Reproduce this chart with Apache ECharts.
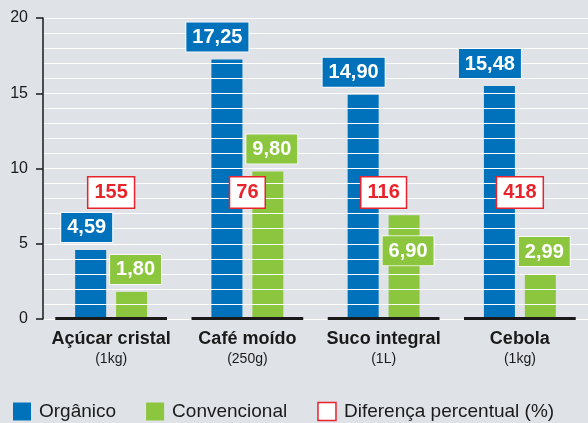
<!DOCTYPE html>
<html>
<head>
<meta charset="utf-8">
<script src="https://cdn.jsdelivr.net/npm/echarts@6/dist/echarts.min.js"></script>
<style>
  html, body { margin: 0; padding: 0; background: #dfe3e7; }
  #chart { width: 588px; height: 423px; }
</style>
</head>
<body>
<div id="chart"></div>
<script>
// Preço por produto: orgânico x convencional (R$) e diferença percentual
const categories = ['Açúcar cristal', 'Café moído', 'Suco integral', 'Cebola'];
const units = ['(1kg)', '(250g)', '(1L)', '(1kg)'];
const organico = [4.59, 17.25, 14.90, 15.48];
const convencional = [1.80, 9.80, 6.90, 2.99];
const diferenca = [155, 76, 116, 418];
const yMin = 0, yMax = 20, yStep = 5;

const BLUE = '#0072bc';
const GREEN = '#8cc63f';
const RED = '#e8232b';
const INK = '#1a1a1a';
const SANS = "'Liberation Sans', Arial, sans-serif";

const BAR_W = 31;
const BAR_GAP = '32%';
const DIFF_LABEL_Y = 8.4;       // height at which the percentage boxes sit
const LOWERED = 'Suco integral'; // green label pushed down to clear the red box

const fmt = v => v.toFixed(2).replace('.', ',');

const valueLabel = (bg, align, dx) => ({
  show: true,
  position: 'top',
  distance: 8,
  align: align,
  offset: [dx, 0],
  formatter: p => fmt(p.value),
  color: '#fff',
  fontFamily: SANS,
  fontWeight: 'bold',
  fontSize: 20,
  lineHeight: 22,
  backgroundColor: bg,
  borderColor: 'rgba(255,255,255,0.75)',
  borderWidth: 1,
  padding: [4, 6, 3, 6]
});

const chart = echarts.init(document.getElementById('chart'), null, { renderer: 'canvas' });

chart.setOption({
  backgroundColor: '#dfe3e7',
  animation: false,
  grid: { left: 43, top: 18, width: 548, bottom: 104, containLabel: false },
  legend: {
    left: 13,
    top: 401.5,
    padding: 0,
    itemWidth: 18,
    itemHeight: 18,
    itemGap: 30,
    icon: 'rect',
    textStyle: { fontFamily: SANS, fontSize: 19, lineHeight: 20, color: INK, padding: [0, 0, 0, 3] },
    data: [
      { name: 'Orgânico' },
      { name: 'Convencional' },
      { name: 'Diferença percentual (%)', icon: 'rect',
        itemStyle: { color: '#fff', borderColor: RED, borderWidth: 1.5, opacity: 1 } }
    ]
  },
  xAxis: [
    {
      type: 'category',
      data: categories,
      axisLine: { lineStyle: { color: INK, width: 1 } },
      axisTick: { show: false },
      axisLabel: {
        margin: 10,
        interval: 0,
        formatter: (v, i) => '{b|' + v + '}\n{s|' + units[i] + '}',
        rich: {
          b: { fontFamily: SANS, fontWeight: 'bold', fontSize: 18, lineHeight: 20, color: INK },
          s: { fontFamily: SANS, fontSize: 14, lineHeight: 20, color: INK }
        }
      }
    },
    { type: 'category', data: categories, show: false }
  ],
  yAxis: {
    type: 'value',
    min: yMin,
    max: yMax,
    interval: yStep,
    z: 3,
    axisLine: { show: true, lineStyle: { color: INK, width: 1.5 } },
    axisTick: { show: true, length: 7, lineStyle: { color: INK, width: 1.5 } },
    axisLabel: { margin: 15, fontFamily: SANS, fontSize: 16, color: INK },
    splitLine: { show: true, lineStyle: { color: '#ffffff', width: 1.2 } },
    minorTick: { show: false, splitNumber: 5 },
    minorSplitLine: { show: true, lineStyle: { color: '#ffffff', width: 1.2 } }
  },
  series: [
    {
      name: 'Orgânico', type: 'bar', data: organico, z: 2,
      barWidth: BAR_W, barGap: BAR_GAP, itemStyle: { color: BLUE }
    },
    {
      name: 'Convencional', type: 'bar', data: convencional, z: 2,
      barWidth: BAR_W, barGap: BAR_GAP, itemStyle: { color: GREEN }
    },
    // value boxes, drawn above the white grid lines
    {
      name: 'Orgânico', type: 'bar', xAxisIndex: 1, data: organico, z: 4, silent: true,
      barWidth: BAR_W, barGap: BAR_GAP, itemStyle: { color: 'rgba(0,0,0,0)' },
      label: valueLabel(BLUE, 'right', BAR_W / 2 + 6)
    },
    {
      name: 'Convencional', type: 'bar', xAxisIndex: 1, z: 4, silent: true,
      data: convencional.map((v, i) => categories[i] === LOWERED
        ? { value: v, label: { offset: [-(BAR_W / 2 + 6), 58] } }
        : v),
      barWidth: BAR_W, barGap: BAR_GAP, itemStyle: { color: 'rgba(0,0,0,0)' },
      label: valueLabel(GREEN, 'left', -(BAR_W / 2 + 6))
    },
    {
      name: 'Diferença percentual (%)', type: 'scatter', z: 5, silent: true,
      symbol: 'rect', symbolSize: 1,
      itemStyle: { color: 'rgba(0,0,0,0)', opacity: 1 },
      data: diferenca.map((d, i) => ({ value: [i, DIFF_LABEL_Y], pct: d })),
      label: {
        show: true,
        position: 'inside',
        formatter: p => String(p.data.pct),
        color: RED,
        fontFamily: SANS,
        fontWeight: 'bold',
        fontSize: 20,
        lineHeight: 22,
        backgroundColor: '#fff',
        borderColor: RED,
        borderWidth: 1.5,
        padding: [4, 6, 4, 6]
      }
    },
    {
      // heavy baseline under each product group
      type: 'custom', z: 6, silent: true,
      data: categories.map((c, i) => [i, 0]),
      renderItem: (params, api) => {
        const p = api.coord([api.value(0), 0]);
        const w = api.size([1, 0])[0] * 0.82;
        return {
          type: 'rect',
          shape: { x: p[0] - w / 2, y: p[1] - 2, width: w, height: 3 },
          style: { fill: INK }
        };
      }
    }
  ]
});
</script>
</body>
</html>
